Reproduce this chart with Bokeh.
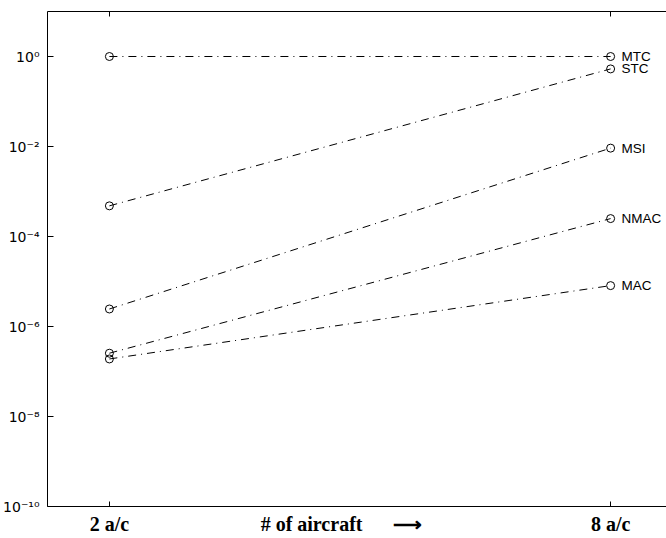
from bokeh.plotting import figure
from bokeh.models import FixedTicker, LinearAxis, LogAxis, Range1d, ColumnDataSource
from bokeh.core.properties import value
from bokeh.embed import file_html
from bokeh.resources import INLINE

# ---- data ----
x_positions = [2, 8]
x_tick_labels = ["2 a/c", "8 a/c"]
caption_positions = [4.42, 5.573]
caption_labels = ["# of aircraft", "⟶"]
series_names = ["MTC", "STC", "MSI", "NMAC", "MAC"]
mtc = [1.0, 1.0]
stc = [4.8e-4, 0.53]
msi = [2.45e-6, 9.2e-3]
nmac = [2.55e-7, 2.5e-4]
mac = [1.9e-7, 8.1e-6]
y_ticks = [1e0, 1e-2, 1e-4, 1e-6, 1e-8, 1e-10]
y_tick_labels = ["10⁰", "10⁻²", "10⁻⁴", "10⁻⁶", "10⁻⁸", "10⁻¹⁰"]

all_series = [mtc, stc, msi, nmac, mac]

SANS = "Liberation Sans"
SERIF = "Liberation Serif"

p = figure(
    width=666, height=538,
    y_axis_type="log",
    x_range=Range1d(1.259, 8.669),
    y_range=Range1d(1e-10, 1e1),
    output_backend="svg",
    toolbar_location=None,
    x_axis_location=None,
    y_axis_location=None,
    min_border_left=46, min_border_right=0, min_border_top=11, min_border_bottom=32,
)
p.outline_line_color = None
p.xgrid.visible = False
p.ygrid.visible = False
p.background_fill_color = "white"
p.border_fill_color = "white"


def hide_labels(ax):
    ax.major_label_text_color = None
    ax.major_label_text_font_size = "1px"
    ax.major_label_standoff = 0


# left log axis
yax = LogAxis(ticker=FixedTicker(ticks=y_ticks, minor_ticks=[]))
yax.major_label_overrides = {t: s for t, s in zip(y_ticks, y_tick_labels)}
yax.major_tick_in = 6
yax.major_tick_out = 0
yax.minor_tick_in = 0
yax.minor_tick_out = 0
yax.major_label_standoff = 8
yax.major_label_text_font = "DejaVu Sans"
yax.major_label_text_font_size = "14px"
yax.major_label_text_color = "black"
yax.axis_line_color = "black"
yax.major_tick_line_color = "black"
p.add_layout(yax, "left")

# bottom axis: frame line with inward ticks at 2 and 8
xax = LinearAxis(ticker=FixedTicker(ticks=x_positions, minor_ticks=[]))
xax.major_tick_in = 5
xax.major_tick_out = 0
xax.minor_tick_in = 0
xax.minor_tick_out = 0
xax.axis_line_color = "black"
xax.major_tick_line_color = "black"
hide_labels(xax)
p.add_layout(xax, "below")

# bottom label row: tick labels + caption on one line
lab_ticks = x_positions + caption_positions
lab_texts = x_tick_labels + caption_labels
lax = LinearAxis(ticker=FixedTicker(ticks=lab_ticks, minor_ticks=[]))
lax.major_label_overrides = {t: s for t, s in zip(lab_ticks, lab_texts)}
lax.axis_line_color = None
lax.major_tick_line_color = None
lax.minor_tick_line_color = None
lax.major_tick_in = 0
lax.major_tick_out = 0
lax.minor_tick_in = 0
lax.minor_tick_out = 0
lax.major_label_standoff = 6
lax.major_label_text_font = SERIF
lax.major_label_text_font_style = "bold"
lax.major_label_text_font_size = "20px"
lax.major_label_text_color = "black"
p.add_layout(lax, "below")

# top axis (frame line with inward ticks, no labels)
tax = LinearAxis(ticker=FixedTicker(ticks=x_positions, minor_ticks=[]))
tax.major_tick_in = 5
tax.major_tick_out = 0
tax.minor_tick_in = 0
tax.minor_tick_out = 0
tax.axis_line_color = "black"
tax.major_tick_line_color = "black"
hide_labels(tax)
p.add_layout(tax, "above")

# series
for vals in all_series:
    p.line(x_positions, vals, line_color="black", line_width=1, line_dash="8 5 1 5")
    p.scatter(x_positions, vals, marker="circle", size=8, fill_color=None,
              line_color="black", line_width=1)

# series names at the right end
right_vals = [s[-1] for s in all_series]
src = ColumnDataSource(dict(x=[x_positions[-1]] * len(series_names), y=right_vals, t=series_names))
p.text(x="x", y="y", text="t", source=src, x_offset=11, text_baseline="middle",
       text_align="left", text_font=value(SANS), text_font_size="13.5px", text_color="black")

open("out.html", "w").write(file_html(p, INLINE))
